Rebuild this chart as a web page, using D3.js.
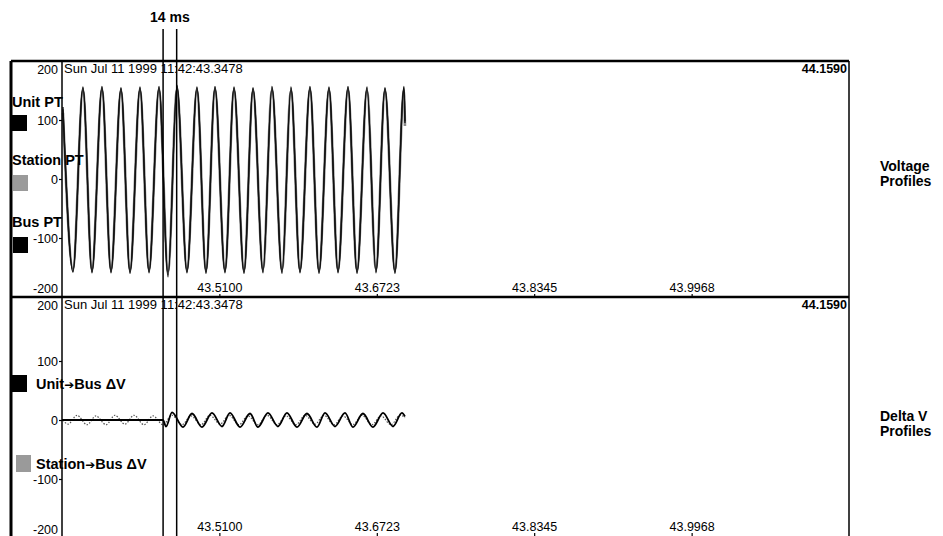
<!DOCTYPE html>
<html>
<head>
<meta charset="utf-8">
<script src="https://cdn.jsdelivr.net/npm/d3@7"></script>
<style>
  body { margin: 0; background: #fff; }
  svg { display: block; font-family: 'Liberation Sans', Arial, sans-serif; }
</style>
</head>
<body>
<svg id="chart" width="943" height="536"></svg>
<script>
// time axis (seconds) and tick labels
var startTime = 43.3478
var endTime = 44.1590
var startStamp = 'Sun Jul 11 1999 11:42:43.3478'
var xTickLabels = ['43.5100', '43.6723', '43.8345', '43.9968']
var yTicks = [-200, -100, 0, 100, 200]

// cursors (ms after start)
var cursorMs = [104.2, 118.2]
var cursorLabel = '14 ms'

// voltage profiles: extrema (ms after start)
var vTimeMs = [1.0, 11.3, 21.6, 30.9, 41.2, 50.5, 60.8, 70.1, 80.4, 89.7, 100.0, 109.3, 118.5, 128.8, 139.1, 148.4, 157.7, 168.0, 177.3, 187.6, 196.9, 207.2, 216.4, 226.8, 236.0, 245.3, 255.6, 264.9, 275.2, 284.5, 294.8, 304.1, 314.4, 323.6, 332.9, 343.2, 352.5, 353.5]
var unitPT = [118, -156, 154, -157, 155, -157, 153, -158, 154, -157, 155, -163, 157, -157, 154, -158, 155, -157, 154, -158, 153, -157, 155, -158, 154, -157, 155, -158, 154, -157, 155, -158, 154, -157, 153, -158, 155, 95]
var stationPT = [112, -151, 149, -152, 150, -152, 148, -153, 149, -152, 150, -156, 151, -152, 149, -153, 150, -152, 149, -153, 148, -152, 150, -153, 149, -152, 150, -153, 149, -152, 150, -153, 149, -152, 148, -153, 150, 90]
var busPT = [122, -158, 156, -159, 157, -159, 155, -160, 156, -159, 157, -166, 159, -159, 156, -160, 157, -159, 156, -160, 155, -159, 157, -160, 156, -159, 157, -160, 156, -159, 157, -160, 156, -159, 155, -160, 157, 98]

// delta V profiles
var dvUnitTimeMs = [0, 104.1, 107.2, 113.4, 124.7, 134.0, 144.3, 154.6, 164.9, 173.2, 183.5, 193.8, 202.0, 212.3, 222.6, 231.9, 242.2, 252.5, 262.8, 271.1, 281.4, 291.7, 299.9, 310.2, 320.5, 330.9, 341.2, 350.4, 353.5]
var unitBusDV = [0, 0, -11, 13, -12, 11, -12, 12, -11, 12, -12, 11, -12, 12, -11, 12, -12, 11, -12, 12, -11, 12, -12, 11, -12, 12, -11, 12, 6]
var dvStationTimeMs = [1.0, 6.2, 15.5, 25.8, 35.0, 45.4, 54.6, 64.9, 74.2, 84.5, 93.8, 104.1, 113.4, 123.7, 133.0, 143.3, 152.5, 162.9, 172.1, 182.4, 191.7, 202.0, 211.3, 221.6, 230.9, 241.2, 250.5, 260.8, 270.0, 280.4, 289.6, 299.9, 309.2, 319.5, 328.8, 339.1, 348.4, 353.5]
var stationBusDV = [0, -7, 8, -8, 7, -8, 8, -7, 8, -8, 7, -8, 8, -8, 7, -8, 8, -7, 8, -8, 7, -8, 8, -8, 7, -8, 8, -7, 8, -8, 7, -8, 8, -8, 7, -8, 8, 4]

var svg = d3.select('#chart')

var frame = { left: 11, plotLeft: 62, right: 849, top: 61, mid: 297, bottom: 536 }

var x = d3.scaleLinear()
  .domain([startTime, endTime])
  .range([frame.plotLeft, frame.right])

var yTop = d3.scaleLinear().domain([-200, 200]).range([297, 61])
var yBot = d3.scaleLinear().domain([-200, 200]).range([538, 302])

function toTime (ms) { return startTime + ms / 1000 }

function zip (times, values) {
  return times.map(function (t, i) { return [toTime(t), values[i]] })
}

/**
 * y axis with the end labels pulled inside the panel
 */
function drawYAxis (y, top, bottom) {
  var g = svg.append('g')
    .attr('transform', 'translate(' + frame.plotLeft + ',0)')
    .call(d3.axisLeft(y).tickValues(yTicks).tickSize(3).tickPadding(1).tickFormat(function (d) { return String(d) }))
  g.select('.domain').remove()
  g.selectAll('text')
    .attr('font-size', 12.5)
    .attr('font-family', 'Liberation Sans, Arial, sans-serif')
    .attr('fill', '#000')
  g.selectAll('.tick')
    .filter(function (d) { return d === 200 })
    .attr('transform', 'translate(0,' + (top + 9) + ')')
    .select('line').remove()
  g.selectAll('.tick')
    .filter(function (d) { return d === -200 })
    .attr('transform', 'translate(0,' + (bottom - 8) + ')')
    .select('line').remove()
  g.selectAll('line').attr('stroke', '#000').attr('stroke-width', 1.2)
}

function drawXAxis (yPos) {
  var g = svg.append('g')
    .attr('transform', 'translate(0,' + yPos + ')')
    .call(d3.axisTop(x).tickValues(xTickLabels.map(Number)).tickSize(3).tickPadding(2)
      .tickFormat(function (d, i) { return xTickLabels[i] }))
  g.select('.domain').remove()
  g.selectAll('text')
    .attr('font-size', 12.5)
    .attr('font-family', 'Liberation Sans, Arial, sans-serif')
    .attr('fill', '#000')
  g.selectAll('line').attr('stroke', '#000').attr('stroke-width', 1.2)
}

function drawHeader (top) {
  svg.append('text')
    .attr('x', frame.plotLeft + 2)
    .attr('y', top + 12)
    .attr('font-size', 13)
    .text(startStamp)
  svg.append('text')
    .attr('x', frame.right - 2)
    .attr('y', top + 12)
    .attr('font-size', 12.5)
    .attr('font-weight', 'bold')
    .attr('text-anchor', 'end')
    .text(endTime.toFixed(4))
}

// axes and labels
drawYAxis(yTop, 61, 297)
drawYAxis(yBot, 297, 538)
drawXAxis(frame.mid)
drawXAxis(frame.bottom)
drawHeader(frame.top)
drawHeader(frame.mid)

// waveforms
var lineTop = d3.line()
  .x(function (d) { return x(d[0]) })
  .y(function (d) { return yTop(d[1]) })
  .curve(d3.curveMonotoneX)

var lineBot = d3.line()
  .x(function (d) { return x(d[0]) })
  .y(function (d) { return yBot(d[1]) })
  .curve(d3.curveMonotoneX)

svg.append('path')
  .datum(zip(vTimeMs, stationPT))
  .attr('d', lineTop)
  .attr('fill', 'none')
  .attr('stroke', '#8a8a8a')
  .attr('stroke-width', 2.6)

svg.append('path')
  .datum(zip(vTimeMs, unitPT))
  .attr('d', lineTop)
  .attr('fill', 'none')
  .attr('stroke', '#111')
  .attr('stroke-width', 1.3)

svg.append('path')
  .datum(zip(vTimeMs, busPT))
  .attr('d', lineTop)
  .attr('fill', 'none')
  .attr('stroke', '#111')
  .attr('stroke-width', 1.3)

svg.append('path')
  .datum(zip(dvStationTimeMs, stationBusDV))
  .attr('d', lineBot)
  .attr('fill', 'none')
  .attr('stroke', '#555')
  .attr('stroke-width', 1.2)
  .attr('stroke-dasharray', '1.5,1.5')

svg.append('path')
  .datum(zip(dvUnitTimeMs, unitBusDV))
  .attr('d', lineBot)
  .attr('fill', 'none')
  .attr('stroke', '#000')
  .attr('stroke-width', 1.8)

// frame lines
var frameLines = [
  [frame.left, frame.top, frame.right, frame.top, 2.5],
  [frame.left, frame.mid, frame.right, frame.mid, 2.5],
  [frame.left, frame.top, frame.left, frame.bottom, 3],
  [frame.plotLeft, frame.top, frame.plotLeft, frame.bottom, 1.5],
  [frame.right, frame.top, frame.right, frame.bottom, 1.5]
]
svg.selectAll('.frame')
  .data(frameLines).enter()
  .append('line')
  .attr('class', 'frame')
  .attr('x1', function (d) { return d[0] })
  .attr('y1', function (d) { return d[1] })
  .attr('x2', function (d) { return d[2] })
  .attr('y2', function (d) { return d[3] })
  .attr('stroke', '#000')
  .attr('stroke-width', function (d) { return d[4] })

// legends
var legendTop = [
  { name: 'Unit PT', color: '#000', textY: 107, boxY: 115, boxX: 12 },
  { name: 'Station PT', color: '#9a9a9a', textY: 165, boxY: 175, boxX: 13 },
  { name: 'Bus PT', color: '#000', textY: 227, boxY: 237, boxX: 13 }
]
var legendBot = [
  { from: 'Unit', to: 'Bus \u0394V', color: '#000', textY: 389, boxY: 375, boxX: 12 },
  { from: 'Station', to: 'Bus \u0394V', color: '#9a9a9a', textY: 469, boxY: 455, boxX: 16 }
]

legendTop.forEach(function (d) {
  svg.append('rect')
    .attr('x', d.boxX).attr('y', d.boxY)
    .attr('width', 15).attr('height', 16)
    .attr('fill', d.color)
  svg.append('text')
    .attr('x', 12).attr('y', d.textY)
    .attr('font-size', 14.5)
    .attr('font-weight', 'bold')
    .text(d.name)
})

legendBot.forEach(function (d) {
  svg.append('rect')
    .attr('x', d.boxX).attr('y', d.boxY)
    .attr('width', 15).attr('height', 17)
    .attr('fill', d.color)
  var t = svg.append('text')
    .attr('x', 36).attr('y', d.textY)
    .attr('font-size', 14.5)
    .attr('font-weight', 'bold')
  t.append('tspan').text(d.from)
  t.append('tspan')
    .attr('font-family', 'DejaVu Sans, sans-serif')
    .attr('font-size', 12)
    .text('\u2794')
  t.append('tspan').text(d.to)
})

// cursors
svg.selectAll('.cursor')
  .data(cursorMs).enter()
  .append('line')
  .attr('class', 'cursor')
  .attr('x1', function (d) { return x(toTime(d)) })
  .attr('x2', function (d) { return x(toTime(d)) })
  .attr('y1', 29)
  .attr('y2', frame.bottom)
  .attr('stroke', '#000')
  .attr('stroke-width', 1.5)

svg.append('text')
  .attr('x', x(toTime(d3.mean(cursorMs))))
  .attr('y', 22)
  .attr('text-anchor', 'middle')
  .attr('font-size', 14)
  .attr('font-weight', 'bold')
  .text(cursorLabel)

// panel titles
var panelTitles = [
  { lines: ['Voltage', 'Profiles'], y: 171 },
  { lines: ['Delta V', 'Profiles'], y: 421 }
]
panelTitles.forEach(function (p) {
  p.lines.forEach(function (l, i) {
    svg.append('text')
      .attr('x', 880)
      .attr('y', p.y + i * 15)
      .attr('font-size', 14)
      .attr('font-weight', 'bold')
      .text(l)
  })
})
</script>
</body>
</html>
